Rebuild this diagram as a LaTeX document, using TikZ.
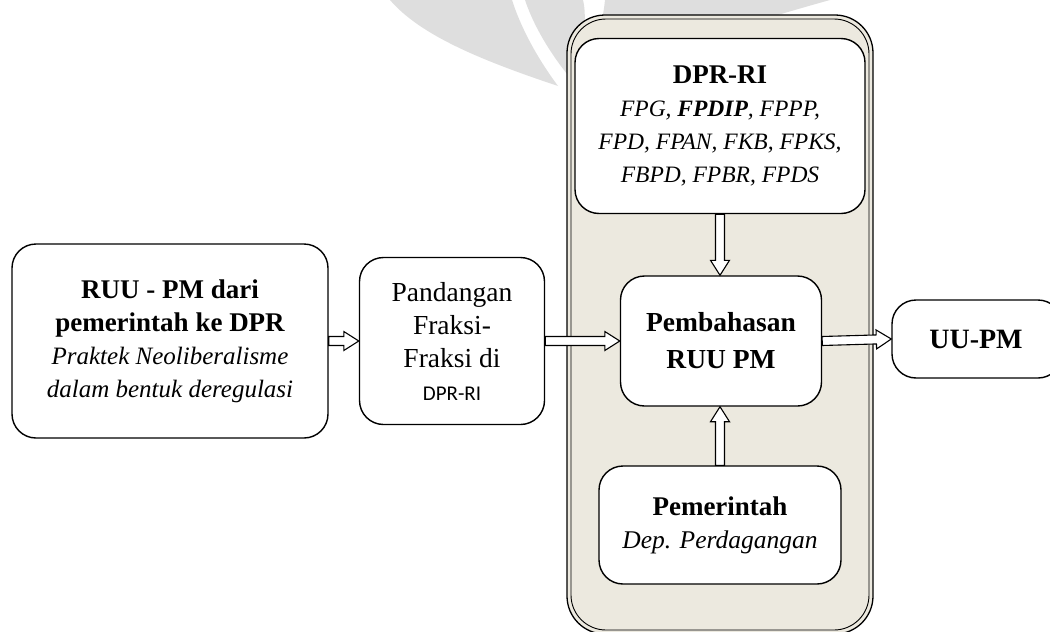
\documentclass[tikz,border=0pt]{standalone}
\usepackage{fontspec}
\setmainfont{Liberation Serif}
\newfontfamily\calibri{Carlito}
\usepackage{tikz}
\usetikzlibrary{calc}

\definecolor{panel}{RGB}{236,233,223}
\definecolor{wmark}{RGB}{222,222,222}

% hollow block arrow from #1 to #2
\newcommand{\fatarrow}[2]{%
  \path ($(#2)!15pt!(#1)$) coordinate (ah);
  \draw[line width=1.1pt, fill=white, line join=miter]
    ($(#1)!4.5pt!90:(#2)$) -- ($(ah)!4.5pt!90:(#2)$) -- ($(ah)!9.5pt!90:(#2)$) -- (#2)
    -- ($(ah)!9.5pt!-90:(#2)$) -- ($(ah)!4.5pt!-90:(#2)$) -- ($(#1)!4.5pt!-90:(#2)$) -- cycle;}

\begin{document}
\begin{tikzpicture}[x=1pt, y=-1pt,
    box/.style={draw, line width=1.4pt, fill=white, rounded corners=24pt, align=center, inner sep=0pt},
    ttl/.style={font=\fontsize{27}{33}\selectfont\bfseries}]
    \useasboundingbox (0,0) rectangle (1050,632);

    % watermark
    \fill[wmark] (390,0) .. controls (420,35) and (480,60) .. (558,86)
        .. controls (535,55) and (520,25) .. (512,0) -- cycle;
    \fill[wmark] (525,0) .. controls (535,30) and (555,60) .. (572,80)
        .. controls (582,50) and (588,20) .. (583,0) -- cycle;
    \fill[wmark] (605,0) .. controls (602,30) and (592,55) .. (582,78)
        .. controls (650,55) and (740,25) .. (830,0) -- cycle;

    % Pembahasan panel
    \draw[fill=panel, line width=1.3pt, rounded corners=38pt] (567,15) rectangle (873,634);
    \draw[line width=0.9pt, rounded corners=35pt] (571,19) rectangle (869,630);

    \node[box, ttl, minimum width=316pt, minimum height=194pt] (ruu) at (170,341)
        {RUU - PM dari\\ pemerintah ke DPR\\
         {\fontsize{25}{33}\selectfont\mdseries\itshape Praktek Neoliberalisme}\\
         {\fontsize{25}{33}\selectfont\mdseries\itshape dalam bentuk deregulasi}};
    \node[box, minimum width=185pt, minimum height=167pt, font=\fontsize{27.5}{33}\selectfont] (pand) at (452,341)
        {Pandangan\\ Fraksi-\\ Fraksi di\\ {\calibri\fontsize{21}{33}\selectfont DPR-RI}};
    \node[box, ttl, minimum width=290pt, minimum height=175pt] (dpr) at (720,126)
        {DPR-RI\\
         {\fontsize{23.5}{28}\selectfont\mdseries\itshape FPG, \textbf{FPDIP}, FPPP,}\\
         {\fontsize{23.5}{29}\selectfont\mdseries\itshape FPD, FPAN, FKB, FPKS,}\\
         {\fontsize{23.5}{29}\selectfont\mdseries\itshape FBPD, FPBR, FPDS}};
    \node[box, ttl, minimum width=201pt, minimum height=130pt, font=\fontsize{27.5}{37}\selectfont\bfseries] (bahas) at (721,341)
        {Pembahasan\\ RUU PM};
    \node[box, ttl, minimum width=242pt, minimum height=118pt] (pem) at (720,525)
        {Pemerintah\\ {\fontsize{25.5}{34}\selectfont\mdseries\itshape Dep. Perdagangan}};
    \node[box, ttl, minimum width=170pt, minimum height=78pt, font=\fontsize{28}{33}\selectfont\bfseries] (uupm) at (977,339)
        {UU-PM\hspace*{2pt}};

    \fatarrow{ruu.east}{pand.west}
    \fatarrow{pand.east}{bahas.west}
    \fatarrow{bahas.east}{uupm.west}
    \fatarrow{dpr.south}{dpr.south |- bahas.north}
    \fatarrow{pem.north}{pem.north |- bahas.south}
\end{tikzpicture}
\end{document}
